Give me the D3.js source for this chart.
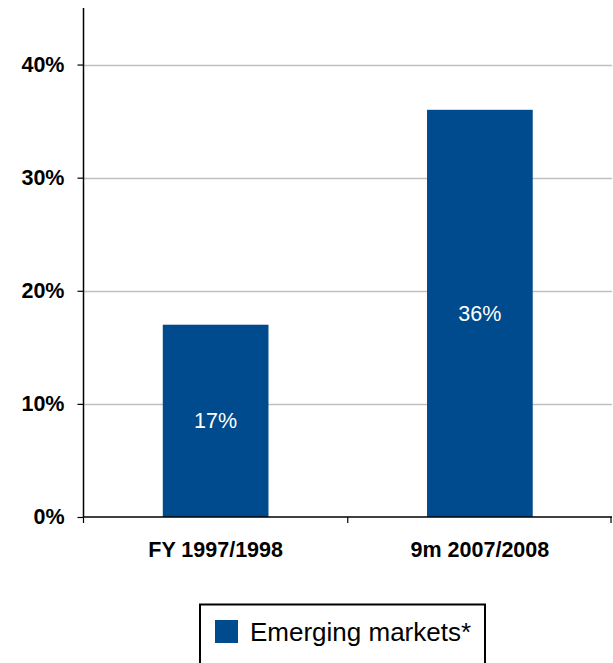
<!DOCTYPE html>
<html>
<head>
<meta charset="utf-8">
<script src="https://cdn.jsdelivr.net/npm/d3@7"></script>
<style>
  body { margin: 0; background: #fff; }
  svg { display: block; font-family: "Liberation Sans", Arial, sans-serif; }
</style>
</head>
<body>
<svg width="613" height="663"></svg>
<script>
(function(d3) {
    'use strict';

    const categories = ['FY 1997/1998', '9m 2007/2008'];
    const shares = [17, 36];
    const yTicks = [0, 10, 20, 30, 40];
    const seriesName = 'Emerging markets*';

    const barColor = '#004b8d';
    const font = '"Liberation Sans", Arial, sans-serif';
    const svg = d3.select('svg');

    const left = 83.5, right = 612, top = 8, bottom = 517;

    const x = d3.scaleBand()
        .domain(categories)
        .range([left, right])
        .paddingInner(0.6)
        .paddingOuter(0.3);

    const y = d3.scaleLinear()
        .domain([0, 45])
        .range([bottom, top]);

    // gridlines
    svg.append('g')
        .selectAll('line')
        .data(yTicks.filter(d => d > 0))
        .enter().append('line')
        .attr('x1', left)
        .attr('x2', right)
        .attr('y1', d => Math.round(y(d)) + 0.5)
        .attr('y2', d => Math.round(y(d)) + 0.5)
        .attr('stroke', '#c0c0c0')
        .attr('stroke-width', 1.5);

    // bars
    svg.append('g')
        .selectAll('rect')
        .data(shares)
        .enter().append('rect')
        .attr('x', (d, i) => x(categories[i]))
        .attr('y', d => y(d))
        .attr('width', x.bandwidth())
        .attr('height', d => bottom - y(d))
        .attr('fill', barColor);

    // value labels
    svg.append('g')
        .selectAll('text')
        .data(shares)
        .enter().append('text')
        .attr('x', (d, i) => x(categories[i]) + x.bandwidth() / 2)
        .attr('y', d => (y(d) + bottom) / 2)
        .attr('dy', '0.35em')
        .attr('text-anchor', 'middle')
        .attr('fill', '#fff')
        .attr('font-size', 21.5)
        .text(d => d + '%');

    // y axis
    const yAxis = svg.append('g')
        .attr('transform', `translate(${left},0)`)
        .call(d3.axisLeft(y).tickValues(yTicks).tickSize(6).tickSizeOuter(0)
            .tickFormat(d => d + '%'));
    yAxis.attr('font-family', font);
    yAxis.select('.domain').attr('d', `M0,${top}V${bottom}`).attr('stroke', '#000').attr('stroke-width', 1.5);
    yAxis.selectAll('.tick line').attr('stroke', '#000').attr('stroke-width', 1.2);
    yAxis.selectAll('.tick text')
        .attr('x', -19)
        .attr('font-size', 21.5)
        .attr('font-weight', 'bold')
        .attr('fill', '#000');

    // x axis
    const xAxis = svg.append('g')
        .attr('transform', `translate(0,${bottom})`);
    xAxis.append('line')
        .attr('x1', left).attr('x2', right)
        .attr('stroke', '#000').attr('stroke-width', 1.5);
    const bounds = [left].concat(categories.map(c => x(c) + x.bandwidth() / 2 + x.step() / 2));
    xAxis.selectAll('line.sep')
        .data(bounds)
        .enter().append('line')
        .attr('class', 'sep')
        .attr('x1', d => Math.min(d, right - 1)).attr('x2', d => Math.min(d, right - 1))
        .attr('y1', 0).attr('y2', 6)
        .attr('stroke', '#000').attr('stroke-width', 1.2);
    xAxis.selectAll('text')
        .data(categories)
        .enter().append('text')
        .attr('x', d => x(d) + x.bandwidth() / 2)
        .attr('y', 40)
        .attr('text-anchor', 'middle')
        .attr('font-size', 21.5)
        .attr('font-weight', 'bold')
        .text(d => d);

    // legend
    const legend = svg.append('g');
    legend.append('rect')
        .attr('x', 200).attr('y', 604.5)
        .attr('width', 285).attr('height', 70)
        .attr('fill', '#fff')
        .attr('stroke', '#000')
        .attr('stroke-width', 2);
    legend.append('rect')
        .attr('x', 215).attr('y', 620)
        .attr('width', 23).attr('height', 23)
        .attr('fill', barColor);
    legend.append('text')
        .attr('x', 250).attr('y', 641)
        .attr('font-size', 26)
        .text(seriesName);
}(d3));
</script>
</body>
</html>
